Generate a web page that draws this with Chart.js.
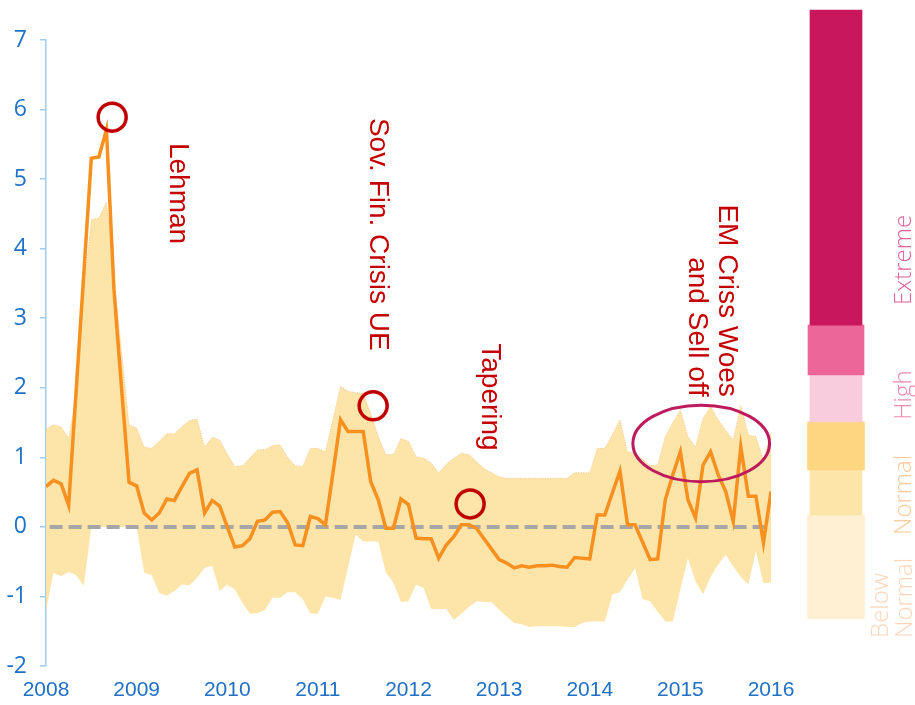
<!DOCTYPE html>
<html>
<head>
<meta charset="utf-8">
<script src="https://cdn.jsdelivr.net/npm/chart.js@4.4.1/dist/chart.umd.min.js"></script>
<style>
  html, body { margin: 0; padding: 0; background: #fff; }
  #wrap { position: relative; width: 915px; height: 705px; }
  #mainChart { position: absolute; left: 0; top: 0; }
  #levelChart { position: absolute; left: 780px; top: 0; }
</style>
</head>
<body>
<div id="wrap">
  <canvas id="mainChart" width="915" height="705"></canvas>
  <canvas id="levelChart" width="135" height="705"></canvas>
</div>
<script>
// monthly series, Jan 2008 .. Jan 2016
const startYear = 2008;

const stressIndex = [
  0.58, 0.67, 0.62, 0.31, 1.97, 3.63, 5.30, 5.32, 5.71, 3.41, 2.00, 0.64,
  0.59, 0.20, 0.10, 0.20, 0.40, 0.38, 0.58, 0.77, 0.82, 0.20, 0.38, 0.30,
  0.00, -0.29, -0.27, -0.17, 0.08, 0.10, 0.21, 0.22, 0.06, -0.26, -0.27, 0.15,
  0.12, 0.03, 0.78, 1.54, 1.37, 1.37, 1.37, 0.65, 0.39, -0.02, -0.02, 0.40,
  0.32, -0.16, -0.17, -0.17, -0.45, -0.26, -0.14, 0.03, 0.03, -0.02, -0.17, -0.32,
  -0.47, -0.52, -0.59, -0.56, -0.58, -0.56, -0.56, -0.55, -0.57, -0.58, -0.44, -0.45,
  -0.46, 0.17, 0.17, 0.49, 0.80, 0.03, 0.03, -0.22, -0.47, -0.46, 0.39, 0.75,
  1.08, 0.39, 0.13, 0.89, 1.08, 0.75, 0.51, 0.08, 1.15, 0.44, 0.44, -0.23,
  0.51
];

const bandUpper = [
  1.40, 1.47, 1.44, 1.27, 1.90, 3.40, 4.42, 4.44, 4.67, 3.60, 2.53, 1.47,
  1.42, 1.15, 1.13, 1.23, 1.34, 1.34, 1.44, 1.53, 1.55, 1.15, 1.29, 1.25,
  1.05, 0.87, 0.88, 0.99, 1.11, 1.11, 1.17, 1.18, 1.00, 0.88, 0.87, 1.13,
  1.13, 1.08, 1.55, 2.02, 1.95, 1.93, 1.92, 1.63, 1.30, 1.04, 1.04, 1.27,
  1.23, 1.01, 0.99, 0.92, 0.78, 0.90, 0.99, 1.06, 1.04, 0.94, 0.84, 0.78,
  0.72, 0.70, 0.70, 0.70, 0.70, 0.70, 0.70, 0.70, 0.70, 0.70, 0.78, 0.78,
  0.78, 1.13, 1.13, 1.33, 1.54, 1.08, 1.06, 0.97, 0.88, 0.89, 1.30, 1.50,
  1.68, 1.30, 1.15, 1.56, 1.73, 1.54, 1.39, 1.25, 1.75, 1.32, 1.30, 0.96,
  1.35
];

const bandLower = [
  -1.21, -0.66, -0.71, -0.65, -0.69, -0.85, 0.00, 0.00, 0.00, 0.00, 0.00, 0.00,
  0.00, -0.66, -0.69, -0.95, -0.99, -0.92, -0.83, -0.84, -0.73, -0.59, -0.56, -0.92,
  -0.83, -0.90, -1.09, -1.25, -1.24, -1.19, -1.02, -1.02, -0.94, -0.94, -1.04, -1.24,
  -1.25, -1.00, -1.02, -1.05, -0.58, -0.11, -0.21, -0.21, -0.21, -0.66, -0.80, -1.08,
  -1.07, -0.83, -0.88, -1.18, -1.18, -1.18, -1.34, -1.25, -1.15, -1.07, -1.08, -1.08,
  -1.19, -1.29, -1.38, -1.40, -1.44, -1.43, -1.43, -1.43, -1.43, -1.44, -1.44, -1.38,
  -1.36, -1.36, -1.36, -0.97, -0.94, -0.76, -0.59, -1.04, -1.07, -1.22, -1.36, -1.36,
  -0.90, -0.45, -0.78, -0.97, -0.72, -0.54, -0.40, -0.57, -0.72, -0.83, -0.35, -0.81,
  -0.80
];

const zeroLineRange = [2008.04, 2015.93];

// event markers
const eventNames = ['Lehman', 'Sov. Fin. Crisis UE', 'Tapering'];
const eventCircleX = [2008.73, 2011.61, 2012.68];
const eventCircleY = [5.89, 1.74, 0.33];
const eventLabelX = [2009.37, 2011.57, 2012.81];
const eventLabelY = [5.52, 5.88, 2.64];

const emLines = ['EM Criss Woes', 'and Sell off'];
const emLabelX = 2015.43;
const emLabelEndY = 1.87;
const emEllipse = [2015.23, 1.20, 0.754, 0.55]; // centre x, centre y, radius x, radius y

// level scale on the right
const levelBounds = [[2.90, 7.43], [2.185, 2.90], [1.51, 2.185], [0.82, 1.51], [0.17, 0.82], [-1.32, 0.17]];
const levelColors = ['#C8175D', '#EC6699', '#F8CBDD', '#FFD680', '#FDE5AA', '#FFF0D4'];
const levelWidths = [52, 56, 52, 57, 52, 57];
const levelLabels = [['Extreme'], ['High'], ['Normal'], ['Below', 'Normal']];
const levelLabelY = [3.19, 1.54, -0.115, -1.596];
const levelLabelColors = ['#E0609A', '#F08AB3', '#FCC99A', '#FDD6B8'];

function toPoints(values) {
  return values.map((v, i) => ({ x: startYear + i / 12, y: v }));
}

const annotationPlugin = {
  id: 'annotations',
  afterDatasetsDraw(chart) {
    const { ctx, scales: { x, y } } = chart;
    ctx.save();

    // ellipse round the 2015 swings
    const cx = x.getPixelForValue(emEllipse[0]);
    const cy = y.getPixelForValue(emEllipse[1]);
    const rx = x.getPixelForValue(emEllipse[0] + emEllipse[2]) - cx;
    const ry = cy - y.getPixelForValue(emEllipse[1] + emEllipse[3]);
    ctx.beginPath();
    ctx.ellipse(cx, cy, rx, ry, 0, 0, Math.PI * 2);
    ctx.strokeStyle = '#BE1A5E';
    ctx.lineWidth = 3;
    ctx.stroke();

    // rotated red labels
    ctx.fillStyle = '#C40000';
    ctx.font = '28px "Liberation Sans", Arial, sans-serif';
    ctx.textBaseline = 'alphabetic';
    eventNames.forEach((name, i) => {
      ctx.save();
      ctx.translate(x.getPixelForValue(eventLabelX[i]), y.getPixelForValue(eventLabelY[i]));
      ctx.rotate(Math.PI / 2);
      ctx.textAlign = 'left';
      ctx.fillText(name, 0, 0);
      ctx.restore();
    });

    ctx.save();
    ctx.translate(x.getPixelForValue(emLabelX), y.getPixelForValue(emLabelEndY));
    ctx.rotate(Math.PI / 2);
    ctx.textAlign = 'right';
    emLines.forEach((line, j) => ctx.fillText(line, 0, j * 30));
    ctx.restore();

    ctx.restore();
  }
};

new Chart(document.getElementById('mainChart'), {
  type: 'line',
  data: {
    datasets: [
      {
        label: 'events',
        data: eventCircleX.map((ex, i) => ({ x: ex, y: eventCircleY[i] })),
        showLine: false,
        pointRadius: 14,
        pointBorderWidth: 3.5,
        pointBorderColor: '#C00000',
        pointBackgroundColor: 'rgba(0,0,0,0)',
        order: 0
      },
      {
        label: 'index',
        data: toPoints(stressIndex),
        borderColor: '#F7901F',
        borderWidth: 3.5,
        pointRadius: 0,
        tension: 0,
        order: 1
      },
      {
        label: 'zero',
        data: zeroLineRange.map(v => ({ x: v, y: 0 })),
        borderColor: '#A6A6A6',
        borderWidth: 4,
        borderDash: [13, 6],
        pointRadius: 0,
        order: 2
      },
      {
        label: 'upper',
        data: toPoints(bandUpper),
        borderColor: 'rgba(242,170,95,0.55)',
        borderWidth: 1,
        borderDash: [1, 1.5],
        pointRadius: 0,
        fill: '+1',
        backgroundColor: '#FDE4A9',
        order: 3
      },
      {
        label: 'lower',
        data: toPoints(bandLower),
        borderWidth: 0,
        borderColor: 'rgba(0,0,0,0)',
        pointRadius: 0,
        fill: false,
        order: 4
      }
    ]
  },
  options: {
    responsive: false,
    animation: false,
    events: [],
    layout: { padding: { top: 40, right: 144, left: 0, bottom: 0 } },
    plugins: { legend: { display: false }, tooltip: { enabled: false } },
    scales: {
      x: {
        type: 'linear',
        min: 2008,
        max: 2016,
        border: { display: false },
        grid: { display: false, drawTicks: false },
        ticks: {
          stepSize: 1,
          autoSkip: false,
          maxRotation: 0,
          color: '#2070C6',
          font: { family: '"Liberation Sans", Arial, sans-serif', size: 21 },
          padding: 12,
          callback: v => String(v)
        },
        afterFit: s => { s.height = 39; }
      },
      y: {
        min: -2,
        max: 7,
        border: { display: true, color: '#9ECBF2', width: 1.5 },
        grid: { drawOnChartArea: false, drawTicks: true, tickLength: 6, color: '#9ECBF2', lineWidth: 1.5 },
        ticks: {
          stepSize: 1,
          color: '#1F72C8',
          font: { family: '"Open Sans", sans-serif', size: 23 },
          padding: 13
        },
        afterFit: s => { s.width = 46; }
      }
    }
  },
  plugins: [annotationPlugin]
});

const levelLabelPlugin = {
  id: 'levelLabels',
  afterDatasetsDraw(chart) {
    const { ctx, chartArea, scales: { y } } = chart;
    ctx.save();
    ctx.font = '300 24px "Open Sans", sans-serif';
    ctx.textAlign = 'left';
    ctx.textBaseline = 'alphabetic';
    levelLabels.forEach((lines, i) => {
      const baseX = lines.length > 1 ? chartArea.right - 4 : chartArea.right + 19;
      ctx.fillStyle = levelLabelColors[i];
      ctx.save();
      ctx.translate(baseX, y.getPixelForValue(levelLabelY[i]));
      ctx.rotate(-Math.PI / 2);
      lines.forEach((line, j) => ctx.fillText(line, 0, j * 24));
      ctx.restore();
    });
    ctx.restore();
  }
};

new Chart(document.getElementById('levelChart'), {
  type: 'bar',
  data: {
    labels: ['level'],
    datasets: levelBounds.map((b, i) => ({
      data: [b],
      backgroundColor: levelColors[i],
      barThickness: levelWidths[i],
      grouped: false,
      clip: false
    }))
  },
  options: {
    responsive: false,
    animation: false,
    events: [],
    layout: { padding: { top: 40, bottom: 39, left: 0, right: 23 } },
    plugins: { legend: { display: false }, tooltip: { enabled: false } },
    scales: {
      x: { display: false },
      y: { display: false, min: -2, max: 7 }
    }
  },
  plugins: [levelLabelPlugin]
});
</script>
</body>
</html>
